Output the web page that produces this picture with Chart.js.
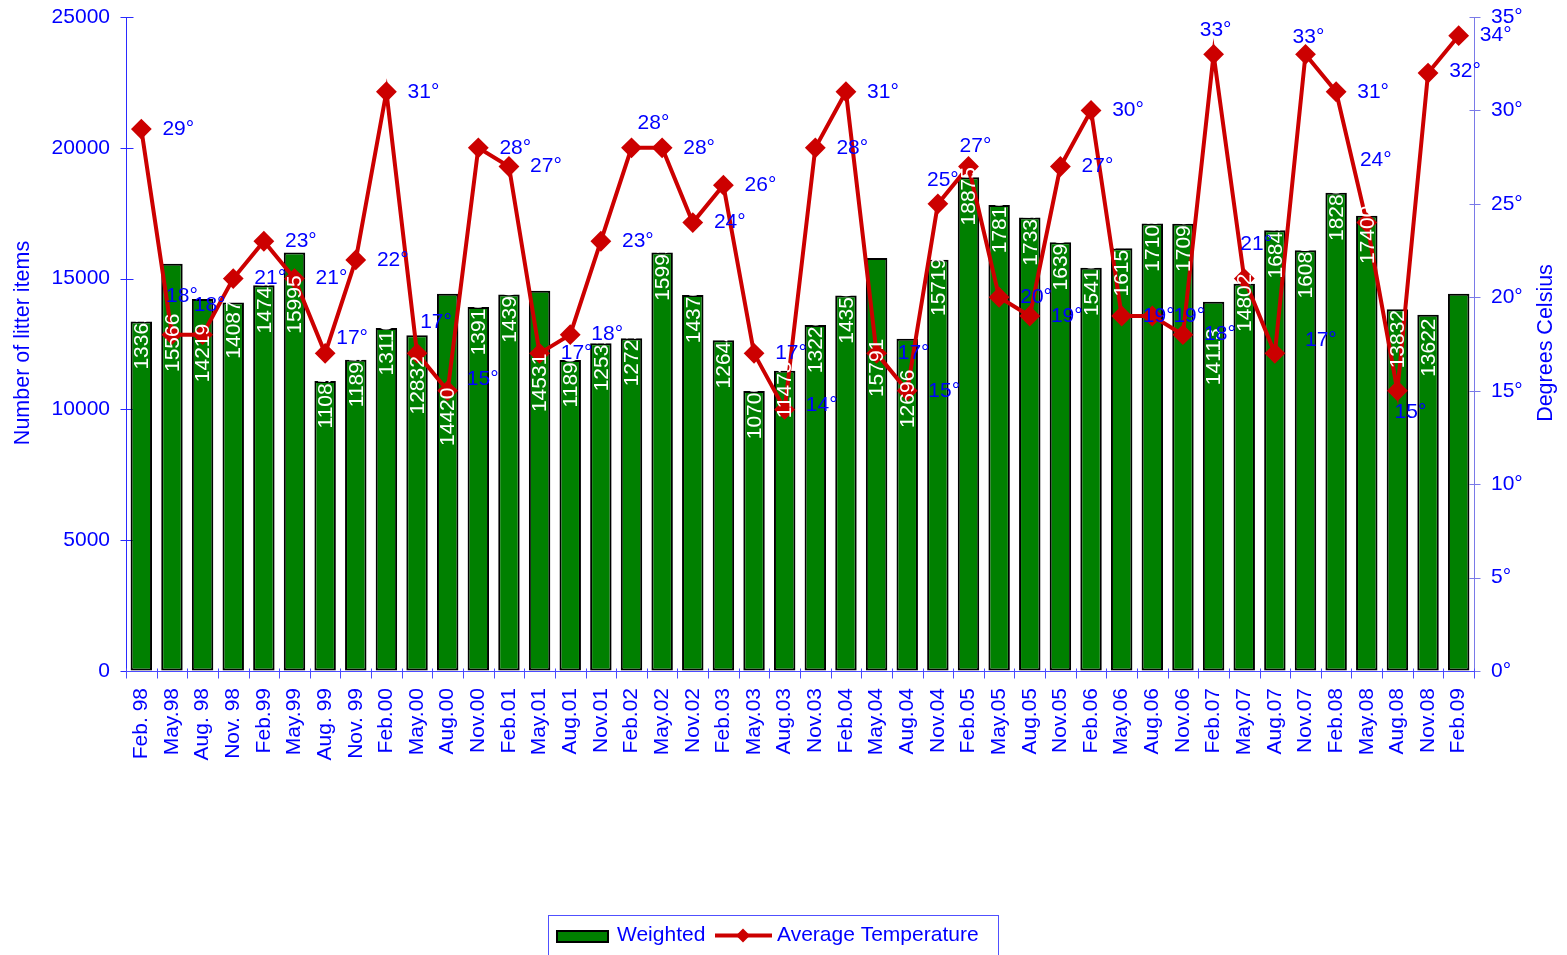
<!DOCTYPE html>
<html>
<head>
<meta charset="utf-8">
<script src="https://cdn.jsdelivr.net/npm/chart.js@4.4.1/dist/chart.umd.min.js"></script>
<style>
  html, body { margin: 0; padding: 0; background: #ffffff; overflow: hidden; }
  #wrap { width: 1567px; height: 955px; position: relative; }
  canvas { display: block; }
</style>
</head>
<body>
<div id="wrap"><canvas id="chart" width="1567" height="955" style="width:1567px;height:955px"></canvas></div>
<script>
// Survey dates (quarterly beach litter counts)
const categories = [
  'Feb. 98', 'May.98', 'Aug. 98', 'Nov. 98', 'Feb.99', 'May.99', 'Aug. 99', 'Nov. 99',
  'Feb.00', 'May.00', 'Aug.00', 'Nov.00', 'Feb.01', 'May.01', 'Aug.01', 'Nov.01',
  'Feb.02', 'May.02', 'Nov.02', 'Feb.03', 'May.03', 'Aug.03', 'Nov.03', 'Feb.04',
  'May.04', 'Aug.04', 'Nov.04', 'Feb.05', 'May.05', 'Aug.05', 'Nov.05', 'Feb.06',
  'May.06', 'Aug.06', 'Nov.06', 'Feb.07', 'May.07', 'Aug.07', 'Nov.07', 'Feb.08',
  'May.08', 'Aug.08', 'Nov.08', 'Feb.09'
];

// Weighted number of litter items per survey
const weighted = [
  13363, 15566, 14219, 14087, 14745, 15995, 11085, 11895,
  13110, 12832, 14420, 13910, 14390, 14531, 11890, 12533,
  12723, 15993, 14370, 12644, 10700, 11473, 13226, 14350,
  15791, 12696, 15719, 18875, 17810, 17335, 16390, 15410,
  16157, 17108, 17096, 14113, 14802, 16845, 16080, 18280,
  17400, 13832, 13622, 14420
];

// Average temperature in degrees Celsius
const avgTemperature = [
  29, 18, 18, 21, 23, 21, 17, 22,
  31, 17, 15, 28, 27, 17, 18, 23,
  28, 28, 24, 26, 17, 14, 28, 31,
  17, 15, 25, 27, 20, 19, 27, 30,
  19, 19, 18, 33, 21, 17, 33, 31,
  24, 15, 32, 34
];

// Axis tick values
const countTicks = [0, 5000, 10000, 15000, 20000, 25000];
const degreeTicks = [0, 5, 10, 15, 20, 25, 30, 35];

// Which bars carry a value label (the last survey has none)
const showBarLabel = categories.map((c, i) => i < categories.length - 1);

// Hand-placed label nudges: bar labels pushed down (px) and temperature labels [dx, dy]
const barLabelDrop = { 1: 60, 2: 35, 3: 8, 5: 33, 9: 31, 10: 104, 13: 73, 24: 91, 25: 41, 26: 8, 35: 36, 41: 11, 42: 14 };
const tempLabelShift = {
  1: [10, -38], 2: [7, -29], 6: [27, -15], 9: [19, -31], 10: [35, -12], 16: [22, -25],
  21: [37, -4], 26: [5, -24], 27: [7, -20], 35: [2, -24], 36: [12, -34], 37: [46, -13],
  38: [3, -17], 40: [9, -62], 41: [13, 21], 42: [37, -2]
};

const BLUE = '#0000ff';
const FONT = "'Liberation Sans', Arial, sans-serif";

const axesPlugin = {
  id: 'axesPlugin',
  beforeDatasetsDraw(chart) {
    const ctx = chart.ctx;
    const a = chart.chartArea;
    const y = chart.scales.y, y1 = chart.scales.y1;
    ctx.save();
    ctx.lineWidth = 1;
    // left axis
    ctx.strokeStyle = '#2a2aff';
    const lx = Math.round(a.left) + 0.5;
    ctx.beginPath();
    ctx.moveTo(lx, a.top); ctx.lineTo(lx, a.bottom);
    countTicks.forEach(v => {
      const py = Math.round(y.getPixelForValue(v)) + 0.5;
      ctx.moveTo(lx - 6, py); ctx.lineTo(lx + 7, py);
    });
    ctx.stroke();
    // right axis
    ctx.strokeStyle = '#7a7ae8';
    const rx = Math.round(a.right) + 0.5;
    ctx.beginPath();
    ctx.moveTo(rx, a.top); ctx.lineTo(rx, a.bottom);
    degreeTicks.forEach(v => {
      const py = Math.round(y1.getPixelForValue(v)) + 0.5;
      ctx.moveTo(rx - 5, py); ctx.lineTo(rx + 6, py);
    });
    ctx.stroke();
    // category axis
    ctx.strokeStyle = '#4a4aff';
    const by = Math.round(a.bottom) + 0.5;
    ctx.beginPath();
    ctx.moveTo(a.left, by); ctx.lineTo(a.right, by);
    const n = categories.length;
    for (let i = 0; i <= n; i++) {
      const px = Math.round(a.left + (a.right - a.left) * i / n) + 0.5;
      ctx.moveTo(px, by - 3); ctx.lineTo(px, by + 7);
    }
    ctx.stroke();
    ctx.restore();
  },
  afterDatasetsDraw(chart) {
    const ctx = chart.ctx;
    // values inside the bars, reading upwards
    const bars = chart.getDatasetMeta(1).data;
    ctx.save();
    ctx.font = '21px ' + FONT;
    ctx.fillStyle = '#ffffff';
    ctx.textAlign = 'center';
    ctx.textBaseline = 'middle';
    bars.forEach((bar, i) => {
      if (!showBarLabel[i]) return;
      ctx.save();
      ctx.translate(bar.x + 1, bar.y + 19 + (barLabelDrop[i] || 0));
      ctx.rotate(-Math.PI / 2);
      ctx.fillText(String(weighted[i]), 0, 0);
      ctx.restore();
    });
    ctx.restore();
    // temperature labels
    const pts = chart.getDatasetMeta(0).data;
    ctx.save();
    ctx.font = '21px ' + FONT;
    ctx.fillStyle = BLUE;
    ctx.textAlign = 'center';
    ctx.textBaseline = 'middle';
    pts.forEach((p, i) => {
      const s = tempLabelShift[i] || [37, 0];
      ctx.fillText(avgTemperature[i] + '°', p.x + s[0], p.y + s[1]);
    });
    ctx.restore();
  },
  afterDraw(chart) {
    const ctx = chart.ctx;
    ctx.save();
    // axis titles
    ctx.fillStyle = BLUE;
    ctx.font = '21.5px ' + FONT;
    ctx.textAlign = 'center';
    ctx.textBaseline = 'middle';
    ctx.save();
    ctx.translate(23, 343);
    ctx.rotate(-Math.PI / 2);
    ctx.fillText('Number of litter items', 0, 0);
    ctx.restore();
    ctx.save();
    ctx.translate(1546, 343);
    ctx.rotate(-Math.PI / 2);
    ctx.fillText('Degrees Celsius', 0, 0);
    ctx.restore();

    // legend box
    ctx.strokeStyle = '#5050ff';
    ctx.lineWidth = 1;
    ctx.strokeRect(548.5, 915.5, 450, 60);
    ctx.fillStyle = '#008000';
    ctx.fillRect(556, 930, 53, 13);
    ctx.strokeStyle = '#000000';
    ctx.lineWidth = 2;
    ctx.strokeRect(557, 931, 51, 11);
    ctx.fillStyle = BLUE;
    ctx.font = '21px ' + FONT;
    ctx.textAlign = 'left';
    ctx.fillText('Weighted', 617, 935);
    ctx.strokeStyle = '#cc0000';
    ctx.lineWidth = 4;
    ctx.beginPath();
    ctx.moveTo(715, 935.5); ctx.lineTo(772, 935.5);
    ctx.stroke();
    ctx.fillStyle = '#cc0000';
    ctx.beginPath();
    ctx.moveTo(743, 928.5); ctx.lineTo(750, 935.5); ctx.lineTo(743, 942.5); ctx.lineTo(736, 935.5);
    ctx.closePath();
    ctx.fill();
    ctx.fillStyle = BLUE;
    ctx.fillText('Average Temperature', 777, 935);
    ctx.restore();
  }
};

new Chart(document.getElementById('chart'), {
  data: {
    labels: categories,
    datasets: [
      {
        type: 'line',
        label: 'Average Temperature',
        data: avgTemperature,
        yAxisID: 'y1',
        order: 0,
        borderColor: '#cc0000',
        backgroundColor: '#cc0000',
        borderWidth: 4,
        tension: 0,
        pointStyle: 'rectRot',
        pointRadius: 9,
        pointBorderWidth: 2,
        pointBackgroundColor: '#cc0000',
        pointBorderColor: '#cc0000'
      },
      {
        type: 'bar',
        label: 'Weighted',
        data: weighted,
        yAxisID: 'y',
        order: 1,
        backgroundColor: '#008000',
        borderColor: '#000000',
        borderWidth: 2,
        borderSkipped: false,
        barPercentage: 0.7,
        categoryPercentage: 1
      }
    ]
  },
  options: {
    responsive: false,
    animation: false,
    devicePixelRatio: 1,
    layout: { padding: { top: 17, left: 0, right: 0, bottom: 0 } },
    plugins: { legend: { display: false }, tooltip: { enabled: false }, title: { display: false } },
    scales: {
      x: {
        type: 'category',
        offset: true,
        grid: { display: true, drawOnChartArea: false, drawTicks: true, tickLength: 17, color: 'rgba(0,0,0,0)', offset: true },
        border: { display: false },
        ticks: { autoSkip: false, minRotation: 90, maxRotation: 90, color: BLUE, font: { family: FONT, size: 21 }, padding: 0 },
        afterFit: s => { s.height = 284; }
      },
      y: {
        position: 'left',
        min: 0, max: 25000,
        afterBuildTicks: s => { s.ticks = countTicks.map(v => ({ value: v })); },
        grid: { display: true, drawOnChartArea: false, drawTicks: true, tickLength: 16, color: 'rgba(0,0,0,0)' },
        border: { display: false },
        ticks: { color: BLUE, font: { family: FONT, size: 21 }, padding: 0, callback: v => String(v) },
        afterFit: s => { s.width = 126; }
      },
      y1: {
        position: 'right',
        min: 0, max: 35,
        afterBuildTicks: s => { s.ticks = degreeTicks.map(v => ({ value: v })); },
        grid: { display: true, drawOnChartArea: false, drawTicks: true, tickLength: 17, color: 'rgba(0,0,0,0)' },
        border: { display: false },
        ticks: { color: BLUE, font: { family: FONT, size: 21 }, padding: 0, callback: v => v + '°' },
        afterFit: s => { s.width = 93; }
      }
    }
  },
  plugins: [axesPlugin]
});
</script>
</body>
</html>
